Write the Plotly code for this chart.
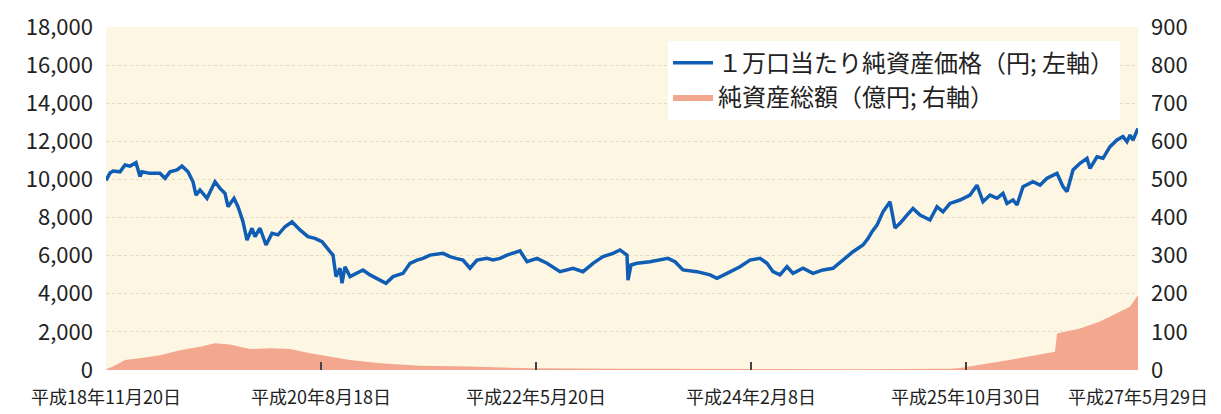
import plotly.graph_objects as go

# Trading-day index (x) and 1万口当たり純資産価格 (円, left axis)
price_x = [0, 8, 14, 28, 38, 48, 60, 68, 72, 88, 108, 118, 128, 142, 152, 164, 174, 180, 188, 202,
           218, 228, 238, 244, 256, 264, 274, 282, 292, 298, 308, 320, 332, 344, 358, 372, 388, 404,
           418, 432, 448, 454, 460, 468, 472, 478, 488, 502, 514, 528, 548, 560, 574, 594, 608, 622,
           634, 648, 674, 688, 700, 714, 728, 742, 762, 774, 788, 802, 828, 842, 862, 882, 908, 934,
           954, 974, 994, 1014, 1028, 1042, 1044, 1050, 1062, 1088, 1124, 1138, 1154, 1182, 1208,
           1222, 1242, 1268, 1288, 1308, 1322, 1334, 1348, 1362, 1374, 1394, 1414, 1434, 1454, 1474,
           1494, 1514, 1524, 1532, 1542, 1554, 1568, 1578, 1588, 1602, 1614, 1628, 1648, 1662, 1674,
           1688, 1708, 1728, 1742, 1754, 1768, 1782, 1794, 1802, 1814, 1822, 1834, 1854, 1868, 1882,
           1902, 1914, 1922, 1934, 1948, 1962, 1968, 1982, 1994, 2008, 2022, 2034, 2042, 2048, 2054,
           2064]
price_y = [9950, 10340, 10440, 10400, 10760, 10700, 10880, 10150, 10400, 10320, 10320, 10060, 10400,
           10500, 10700, 10400, 9880, 9180, 9450, 9010, 9880, 9530, 9270, 8570, 9010, 8570, 7780, 6820,
           7440, 7000, 7440, 6560, 7170, 7090, 7520, 7780, 7350, 7000, 6910, 6730, 6210, 6030, 4900,
           5340, 4550, 5420, 4900, 5070, 5250, 4990, 4720, 4550, 4900, 5070, 5600, 5770, 5860, 6030,
           6120, 5950, 5860, 5770, 5340, 5770, 5860, 5770, 5860, 6030, 6250, 5680, 5860, 5600, 5160,
           5340, 5160, 5600, 5950, 6120, 6300, 6030, 4720, 5510, 5600, 5680, 5860, 5680, 5250, 5160,
           4990, 4810, 5070, 5420, 5770, 5860, 5600, 5160, 4990, 5420, 5070, 5340, 5070, 5250, 5340,
           5770, 6210, 6560, 6900, 7260, 7600, 8300, 8830, 7450, 7700, 8130, 8480, 8130, 7870, 8570,
           8300, 8740, 8920, 9180, 9700, 8830, 9180, 9010, 9270, 8740, 8920, 8660, 9620, 9880, 9700,
           10060, 10320, 9620, 9360, 10500, 10850, 11110, 10580, 11190, 11110, 11720, 12070, 12250,
           11980, 12330, 12070, 12680]

# 純資産総額 (億円, right axis)
aum_x = [0, 2, 14, 38, 68, 108, 148, 188, 218, 248, 268, 288, 328, 368, 408, 448, 488, 548, 628,
         728, 848, 1028, 1300, 1500, 1688, 1708, 1788, 1898, 1902, 1948, 1988, 2028, 2048, 2064]
aum_y = [0, 3, 9, 26, 31, 39, 52, 61, 70, 67, 61, 55, 57, 55, 44, 35, 26, 18, 11, 9, 4.5, 3, 2, 2,
         3, 5, 22, 48, 96, 109, 127, 153, 166, 197]

tick_vals = [0, 430, 860, 1290, 1720, 2064]
tick_text = ["平成18年11月20日", "平成20年8月18日", "平成22年5月20日",
             "平成24年2月8日", "平成25年10月30日", "平成27年5月29日"]

FONT = "Noto Sans CJK JP"

fig = go.Figure()
fig.add_trace(go.Scatter(
    x=price_x, y=price_y, mode="lines", name="１万口当たり純資産価格（円; 左軸）",
    line=dict(color="#0f5db4", width=3.5), yaxis="y"))
fig.add_trace(go.Scatter(
    x=aum_x, y=aum_y, mode="lines", name="純資産総額（億円; 右軸）",
    fill="tozeroy", fillcolor="#f3a78e", line=dict(color="#f3a78e", width=0),
    yaxis="y2"))

fig.update_layout(
    width=1221, height=414,
    margin=dict(l=106, r=83, t=27, b=44),
    paper_bgcolor="white", plot_bgcolor="#fdf6e2",
    font=dict(family=FONT, color="#222222"),
    showlegend=True,
    legend=dict(x=0.5446, y=0.96, xanchor="left", yanchor="top",
                bgcolor="white", borderwidth=0, itemwidth=40,
                font=dict(family=FONT, size=24, color="#222222"),
                tracegroupgap=0),
    xaxis=dict(range=[0, 2064], tickmode="array", tickvals=tick_vals, ticktext=tick_text,
               ticks="inside", ticklen=8, tickwidth=1.5, tickcolor="#444444",
               showgrid=False, zeroline=False, showline=False, automargin=False,
               tickfont=dict(family=FONT, size=18, color="#222222"),
               ticklabelstandoff=15),
    yaxis=dict(range=[0, 18000], dtick=2000, tickformat=",d",
               showgrid=True, gridcolor="#e3d9bd", griddash="dot", gridwidth=1,
               zeroline=False, showline=False, ticks="", automargin=False,
               tickfont=dict(family=FONT, size=22, color="#222222"),
               ticklabelstandoff=12),
    yaxis2=dict(range=[0, 900], dtick=100, overlaying="y", side="right",
                showgrid=False, zeroline=False, showline=False, ticks="", automargin=False,
                tickfont=dict(family=FONT, size=22, color="#222222"),
                ticklabelstandoff=12),
)

fig.write_html("out.html", config={"displayModeBar": False},
               post_script="document.body.style.margin='0';")
